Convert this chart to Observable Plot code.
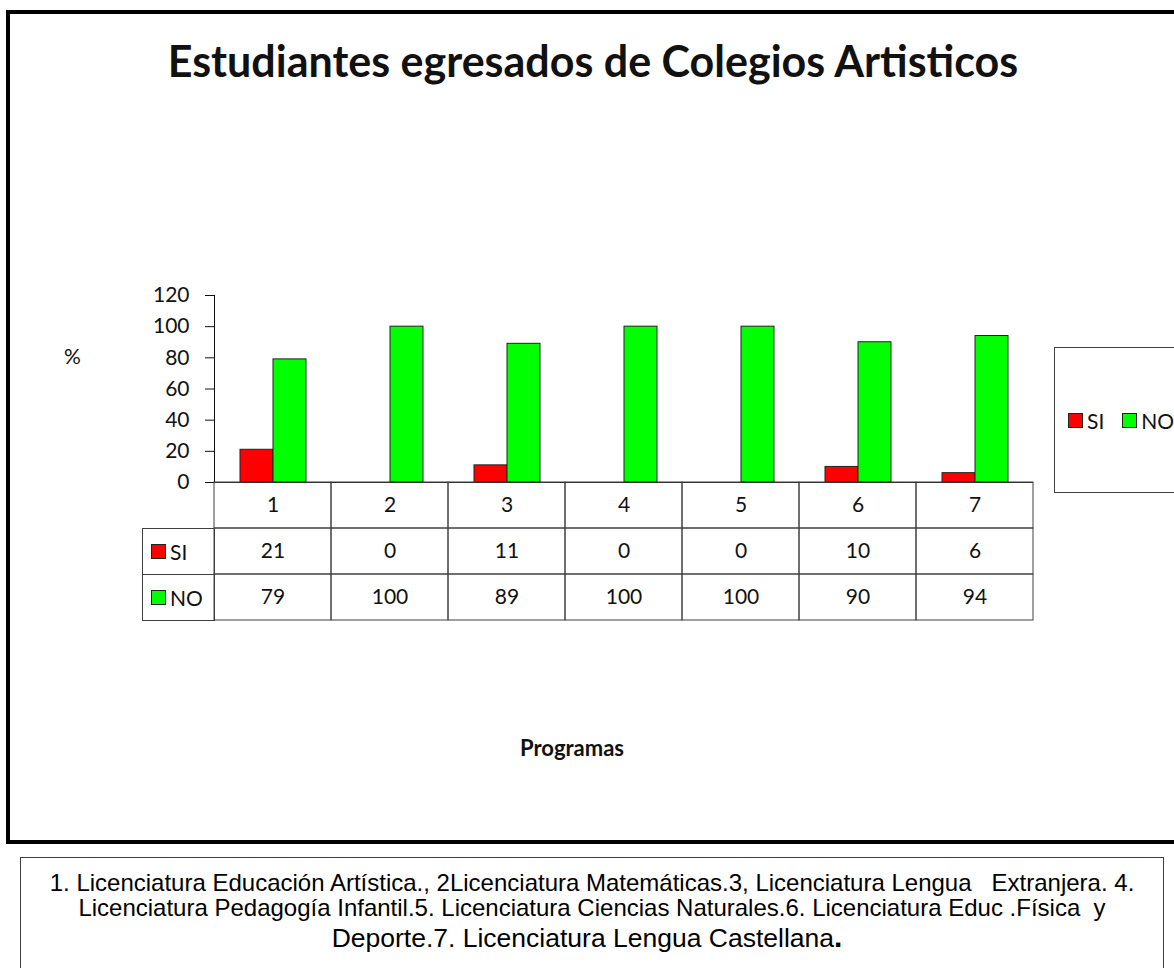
<!DOCTYPE html>
<html>
<head>
<meta charset="utf-8">
<script src="https://cdn.jsdelivr.net/npm/d3@7"></script>
<script src="https://cdn.jsdelivr.net/npm/@observablehq/plot@0.6"></script>
<style>
  html, body { margin: 0; padding: 0; background: #fff; overflow: hidden; }
  #root { position: relative; width: 1174px; height: 968px; overflow: hidden; font-family: Lato, "Open Sans", sans-serif; color: #111; }
  .abs { position: absolute; }
  #frame { left: 6px; top: 10px; width: 1200px; height: 826px; border: 4px solid #000; }
  #title { left: 0; width: 1186px; top: 35px; text-align: center; font-weight: bold; font-size: 43px; white-space: pre; }
  #pct { left: 64px; top: 343px; font-size: 21px; }
  #xlabel { left: 472px; width: 200px; top: 734px; text-align: center; font-weight: bold; font-size: 22px; }
  .lab { box-sizing: border-box; border: 1px solid #404040; font-size: 21px; display: flex; align-items: center; }
  .sw { display: inline-block; width: 15px; height: 15px; box-sizing: border-box; border: 1px solid #222; margin: 0 4px 0 8px; }
  #legend { left: 1054px; top: 347px; width: 200px; height: 146px; box-sizing: border-box; border: 1px solid #404040; font-size: 21px; display: flex; align-items: center; }
  #legend .sw { margin: 0 4px 0 13px; }
  #legend .sw.second { margin-left: 18px; }
  #caption { left: 20px; top: 857px; width: 1144px; height: 130px; box-sizing: border-box; border: 1px solid #404040; }
  .cap { left: 0; width: 1142px; text-align: center; font-family: "Liberation Sans", Arial, sans-serif; font-size: 24px; line-height: 24px; white-space: pre; color: #000; }
  svg { position: absolute; left: 0; top: 0; overflow: visible; }
</style>
</head>
<body>
<div id="root">
  <div id="frame" class="abs"></div>
</div>
<script>
// ---- data ----
const programas = ["1", "2", "3", "4", "5", "6", "7"];
const series = ["SI", "NO"];
const siValues = [21, 0, 11, 0, 0, 10, 6];
const noValues = [79, 100, 89, 100, 100, 90, 94];
const seriesColors = ["#ff0000", "#00ff00"];
const yTicks = [0, 20, 40, 60, 80, 100, 120];
const titleText = "Estudiantes egresados de Colegios Artisticos";
const yLabel = "%";
const xLabel = "Programas";
const captionLines = [
  "1. Licenciatura Educación Artística., 2Licenciatura Matemáticas.3, Licenciatura Lengua   Extranjera. 4.",
  "Licenciatura Pedagogía Infantil.5. Licenciatura Ciencias Naturales.6. Licenciatura Educ .Física  y",
  "Deporte.7. Licenciatura Lengua Castellana"
];

// ---- derived tables ----
const valuesBySerie = {SI: siValues, NO: noValues};
const bars = programas.flatMap((p, i) => series.map(s => ({programa: p, serie: s, valor: valuesBySerie[s][i]})));
const cells = programas.flatMap((p, i) => [
  {programa: p, fila: "prog", texto: p},
  ...series.map(s => ({programa: p, fila: s, texto: String(valuesBySerie[s][i])}))
]);

const root = document.getElementById("root");
const W = 1174;

// ---- bar chart ----
const chart = Plot.plot({
  width: W,
  height: 500,
  marginLeft: 214,
  marginRight: 141,
  marginTop: 295,
  marginBottom: 18,
  style: {background: "none", fontFamily: "Lato, 'Open Sans', sans-serif", fontSize: "21px", color: "#111", overflow: "visible"},
  fx: {domain: programas, padding: 0, axis: null, label: null},
  x: {domain: series, paddingInner: 0, paddingOuter: 0.75, axis: null},
  y: {domain: [0, 120], ticks: yTicks, tickSize: 9, tickPadding: 16, line: true, label: null, tickFormat: d => String(d)},
  color: {domain: series, range: seriesColors},
  marks: [
    Plot.barY(bars, {filter: d => d.valor > 0, fx: "programa", x: "serie", y: "valor", fill: "serie", stroke: "#222", strokeWidth: 1}),
    Plot.ruleY([0], {stroke: "#222"})
  ]
});
root.appendChild(chart);

// ---- data table ----
const table = Plot.plot({
  width: W,
  height: 640,
  marginLeft: 214,
  marginRight: 141,
  marginTop: 482,
  marginBottom: 20,
  style: {background: "none", fontFamily: "Lato, 'Open Sans', sans-serif", fontSize: "21px", color: "#111", overflow: "visible"},
  x: {domain: programas, padding: 0, axis: null},
  y: {domain: ["prog", ...series], padding: 0, axis: null},
  marks: [
    Plot.cell(cells, {x: "programa", y: "fila", fill: "none", stroke: "#404040", strokeWidth: 1}),
    Plot.text(cells, {x: "programa", y: "fila", text: "texto", fill: "#111", fontSize: 21})
  ]
});
root.appendChild(table);

// ---- table label column (series keys) ----
const yRow = table.scale("y");
series.forEach((s, i) => {
  const d = document.createElement("div");
  d.className = "abs lab";
  const top = yRow.apply(s);
  d.style.left = "142px";
  d.style.top = top + "px";
  d.style.width = (214 - 142 + 1) + "px";
  d.style.height = (yRow.bandwidth + 1) + "px";
  d.innerHTML = `<span class="sw" style="background:${seriesColors[i]}"></span><span>${s}</span>`;
  root.appendChild(d);
});

// ---- legend ----
const legend = document.createElement("div");
legend.id = "legend";
legend.className = "abs";
legend.innerHTML = series.map((s, i) => `<span class="sw${i ? " second" : ""}" style="background:${seriesColors[i]}"></span><span>${s}</span>`).join("");
root.appendChild(legend);

// ---- texts ----
function addText(id, text) {
  const d = document.createElement("div");
  d.id = id; d.className = "abs"; d.textContent = text;
  root.appendChild(d);
  return d;
}
addText("title", titleText);
addText("pct", yLabel);
addText("xlabel", xLabel);

const cap = document.createElement("div");
cap.id = "caption"; cap.className = "abs";
const capTops = [13, 38, 67];
const capSizes = [24, 24, 26.5];
captionLines.forEach((line, i) => {
  const l = document.createElement("div");
  l.className = "abs cap";
  l.style.top = capTops[i] + "px";
  l.style.fontSize = capSizes[i] + "px";
  l.style.left = i === 2 ? "-5px" : "0px";
  l.textContent = line;
  if (i === captionLines.length - 1) {
    const b = document.createElement("b");
    b.textContent = ".";
    b.style.fontSize = "30px";
    l.appendChild(b);
  }
  cap.appendChild(l);
});
root.appendChild(cap);
</script>
</body>
</html>
